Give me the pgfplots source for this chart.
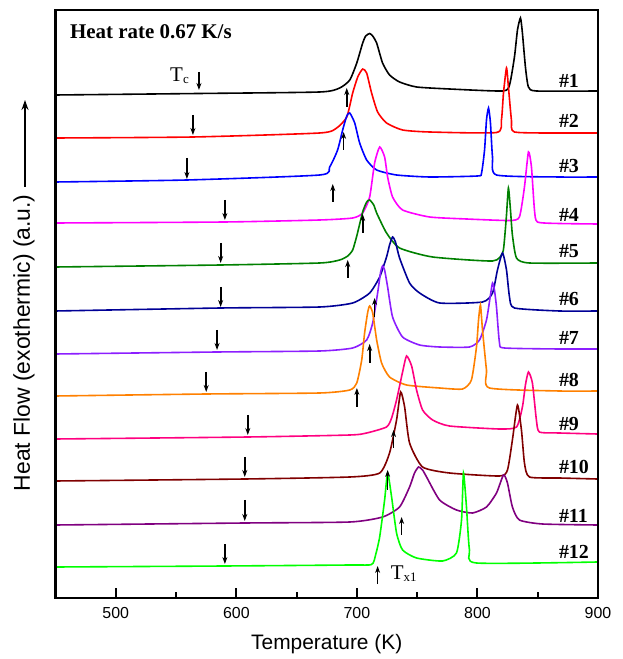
\documentclass[border=0pt]{standalone}
\usepackage{fontspec}
\setmainfont{Liberation Serif}
\newfontfamily\arial{Liberation Sans}
\usepackage{pgfplots}
\pgfplotsset{compat=1.18}
\usetikzlibrary{arrows.meta}

\definecolor{c1}{RGB}{0,0,0}
\definecolor{c2}{RGB}{255,0,0}
\definecolor{c3}{RGB}{0,0,255}
\definecolor{c4}{RGB}{255,0,255}
\definecolor{c5}{RGB}{0,128,0}
\definecolor{c6}{RGB}{0,0,150}
\definecolor{c7}{RGB}{140,30,255}
\definecolor{c8}{RGB}{255,128,0}
\definecolor{c9}{RGB}{255,0,128}
\definecolor{c10}{RGB}{128,0,0}
\definecolor{c11}{RGB}{128,0,128}
\definecolor{c12}{RGB}{0,255,0}

\begin{document}
\begin{tikzpicture}
\useasboundingbox (-55.5bp,-61bp) rectangle (567.5bp,598bp);
\begin{axis}[
 at={(0,0)}, anchor=south west,
 scale only axis, width=542.5bp, height=588bp,
 xmin=450, xmax=900, ymin=-598, ymax=-10,
 xtick={500,600,700,800,900},
 minor xtick={550,650,750,850},
 ytick=\empty,
 xtick pos=left,
 xtick align=inside,
 major tick length=10bp, minor tick length=6bp,
 axis on top,
 axis line style={line width=2.8bp, black},
 every tick/.append style={line width=2bp, black},
 tick label style={font=\arial\fontsize{16}{16}\selectfont},
 /pgf/number format/assume math mode=true,
 xticklabel style={yshift=-6bp},
 xlabel={Temperature (K)}, ylabel={Heat Flow (exothermic) (a.u.)},
 xlabel style={font=\arial\fontsize{21}{21}\selectfont, at={(axis description cs:0.5,-0.078)}, anchor=center},
 ylabel style={font=\arial\fontsize{23}{23}\selectfont, at={(axis description cs:-0.058,0.434)}, anchor=center},
 clip=false,
 every axis plot/.append style={line width=1.6bp, no markers, smooth, tension=0.35},
]
% #1
\addplot[c1] coordinates {(450,-95) (569,-93.5) (669.1,-92) (685.7,-88) (694.1,-80) (699.9,-63) (704.8,-43) (707.3,-36) (710.6,-33.5) (713.1,-36) (716.4,-43) (721.3,-63) (727.1,-75) (735.4,-82) (749.5,-87) (776.8,-89) (820.8,-91) (826.6,-85) (830.7,-57) (833.2,-30) (835.7,-18) (837.3,-33) (839.8,-67) (842.3,-87) (848.9,-91) (899.5,-91)};
% #2
\addplot[c2] coordinates {(450,-138) (564,-137) (669.1,-133) (683.2,-128) (691.6,-117) (696.5,-93) (700.7,-77) (704.8,-69) (708.1,-73) (712.2,-93) (717.2,-112) (724.6,-123) (737.9,-130) (760.3,-132) (815.8,-132.5) (819.9,-120) (821.6,-93) (824.1,-68) (825.7,-87) (828.2,-120) (830.7,-132) (868,-133) (899.5,-133)};
% #3
\addplot[c3] coordinates {(450,-182) (559,-180) (669.1,-175) (677.4,-167) (684.0,-150) (688.2,-130) (691.6,-116) (694.1,-113) (698.2,-123) (702.3,-143) (708.1,-160) (716.4,-170) (732.9,-175) (760.3,-177) (800,-176) (803.4,-173) (805.9,-150) (807.5,-120) (809.2,-108) (810.8,-123) (812.5,-157) (815.8,-175) (868,-177) (899.5,-177)};
% #4
\addplot[c4] coordinates {(450,-223) (590,-222) (669.1,-220) (696.5,-218) (704.8,-213) (710.6,-197) (714.7,-163) (718.9,-147) (723,-157) (725.5,-177) (729.6,-197) (737.9,-210) (760.3,-217) (790.9,-219) (826.6,-220.5) (834.8,-217) (839,-187) (842.3,-152) (844.8,-167) (847.3,-210) (849.8,-222) (868,-223.5) (899.5,-224)};
% #5
\addplot[c5] coordinates {(450,-267) (587,-265) (669.1,-263) (685.7,-260) (692.4,-256) (696.5,-250) (699.9,-236) (704.8,-212) (708.1,-202) (710.6,-200) (714,-205) (716.4,-213) (724.6,-233) (735.4,-248) (762.8,-257) (812.5,-261) (820.8,-253) (822.4,-240) (824.1,-215) (825.7,-188) (827.4,-210) (829,-235) (832.4,-258) (843.1,-263) (899.5,-263)};
% #6
\addplot[c6] coordinates {(450,-311) (587,-308) (669.1,-307) (696.5,-303) (710.6,-293) (718.9,-277) (724.6,-257) (727.1,-245) (729.6,-237) (732,-242) (735.4,-258) (743.7,-283) (752,-293) (768.6,-303) (804.2,-302) (812.5,-293) (816.6,-270) (820.8,-253) (824.1,-270) (826.6,-297) (830.7,-308) (868,-311) (899.5,-311)};
% #7
\addplot[c7] coordinates {(450,-354) (584,-352) (669.1,-351) (696.5,-348) (708.1,-340) (713.1,-323) (717.2,-293) (719.7,-272) (721.3,-266) (723,-270) (725.5,-287) (729.6,-317) (737.9,-337) (752,-345) (768.6,-347) (793.4,-347) (801.7,-340) (807.5,-320) (810.8,-295) (812.5,-283) (814.1,-290) (815.8,-307) (818.3,-343) (822.4,-348) (868,-349) (899.5,-349)};
% #8
\addplot[c8] coordinates {(450,-396) (575,-394) (669.1,-393) (694.1,-390) (699.9,-383) (704,-360) (706.4,-333) (709,-312) (710.6,-306) (713.1,-313) (716.4,-340) (720.5,-363) (727.1,-377) (741.2,-385) (768.6,-388) (787.6,-389) (795,-380) (799.2,-347) (800.9,-320) (802.5,-305) (804.2,-330) (807.5,-370) (810,-388) (868,-391) (899.5,-391)};
% #9
\addplot[c9] coordinates {(450,-439) (609.5,-437) (694.1,-435) (708.1,-433) (724.6,-427) (728.8,-418) (732.9,-400) (737.9,-372) (741.2,-356) (745.4,-366) (749.5,-390) (754.5,-410) (762.8,-420) (776.8,-426) (818.3,-429) (832.4,-427) (837.3,-407) (839.8,-385) (842.3,-372) (845.6,-383) (848.9,-420) (851.4,-432) (868,-433) (899.5,-434)};
% #10
\addplot[c10] coordinates {(450,-481) (607,-479) (694.1,-477) (718.9,-473) (727.1,-453) (732.9,-420) (736.3,-392) (739.6,-407) (743.7,-443) (754.5,-467) (776.8,-473) (818.3,-476) (824.9,-470) (829,-440) (833.2,-405) (836.5,-430) (839,-463) (843.1,-477) (868,-478) (899.5,-479)};
% #11
\addplot[c11] coordinates {(450,-525) (607,-523) (694.1,-522) (721.3,-517) (735.4,-507) (743.7,-487) (747.8,-473) (751.2,-467) (754.5,-470) (757.8,-477) (768.6,-500) (782.6,-510) (795.9,-513) (807.5,-507) (815.8,-493) (821.6,-475) (824.9,-483) (829,-507) (834.8,-520) (853.9,-524) (899.5,-525)};
% #12
\addplot[c12] coordinates {(450,-567) (590,-566) (694.1,-565) (712.2,-564.5) (715.5,-555) (718.9,-537) (723,-500) (725.5,-473) (728.8,-497) (732.9,-533) (737.9,-550) (749.5,-558) (771,-561) (782.6,-553) (786.8,-520) (788.4,-473) (790.9,-507) (793.4,-550) (799.2,-563) (899.5,-562)};

% frame
\draw[line width=2.8bp, black] (rel axis cs:0,0) rectangle (rel axis cs:1,1);

% Tc arrows (down)
\begin{scope}[line width=1.7bp, -{Stealth[length=7bp,width=5bp]}]
\draw (axis cs:569,-72) -- (axis cs:569,-90);
\draw (axis cs:564,-115) -- (axis cs:564,-135);
\draw (axis cs:559,-158) -- (axis cs:559,-179);
\draw (axis cs:590.5,-200) -- (axis cs:590.5,-220);
\draw (axis cs:587,-243) -- (axis cs:587,-263);
\draw (axis cs:587,-287) -- (axis cs:587,-307);
\draw (axis cs:584,-330) -- (axis cs:584,-350);
\draw (axis cs:575,-372) -- (axis cs:575,-392);
\draw (axis cs:609.5,-415) -- (axis cs:609.5,-435);
\draw (axis cs:607,-457) -- (axis cs:607,-477);
\draw (axis cs:607,-500) -- (axis cs:607,-521);
\draw (axis cs:590.5,-544) -- (axis cs:590.5,-564);
% Tx1 arrows (up)
\draw (axis cs:691.6,-107) -- (axis cs:691.6,-88);
\draw (axis cs:689,-150) -- (axis cs:689,-132);
\draw (axis cs:680,-202) -- (axis cs:680,-184);
\draw (axis cs:704.8,-233) -- (axis cs:704.8,-214);
\draw (axis cs:692.4,-278) -- (axis cs:692.4,-260);
\draw (axis cs:714.7,-317) -- (axis cs:714.7,-298);
\draw (axis cs:710.6,-363) -- (axis cs:710.6,-344);
\draw (axis cs:700,-407) -- (axis cs:700,-388);
\draw (axis cs:730.4,-448) -- (axis cs:730.4,-430);
\draw (axis cs:725.5,-490) -- (axis cs:725.5,-470);
\draw (axis cs:737.1,-535) -- (axis cs:737.1,-517);
\draw (axis cs:717.2,-584) -- (axis cs:717.2,-566);
% y-label arrow
\draw[line width=1.8bp, -{Stealth[length=10bp,width=7bp]}] (axis cs:424.7,-187) -- (axis cs:424.7,-100);
\end{scope}

\node[anchor=west, inner sep=0pt, font=\bfseries\fontsize{21}{21}\selectfont] at (axis cs:462,-32) {Heat rate 0.67 K/s};
\node[anchor=base west, inner sep=0pt, font=\fontsize{21}{21}\selectfont] at (axis cs:545,-82) {T\raisebox{-1.5bp}{\fontsize{13}{13}\selectfont c}};
\node[anchor=base west, inner sep=0pt, font=\fontsize{21}{21}\selectfont] at (axis cs:728,-579) {T\raisebox{-2bp}{\fontsize{13}{13}\selectfont x1}};

\begin{scope}[every node/.style={anchor=base west, inner sep=0pt, font=\bfseries\fontsize{20}{20}\selectfont}]
\node at (axis cs:867.5,-88) {\#1};
\node at (axis cs:867.5,-128) {\#2};
\node at (axis cs:867.5,-173) {\#3};
\node at (axis cs:867.5,-222) {\#4};
\node at (axis cs:867.5,-258) {\#5};
\node at (axis cs:867.5,-306) {\#6};
\node at (axis cs:867.5,-345) {\#7};
\node at (axis cs:867.5,-387) {\#8};
\node at (axis cs:867.5,-431) {\#9};
\node at (axis cs:867.5,-474) {\#10};
\node at (axis cs:867.5,-522) {\#11};
\node at (axis cs:867.5,-558) {\#12};
\end{scope}
\end{axis}
\end{tikzpicture}
\end{document}
